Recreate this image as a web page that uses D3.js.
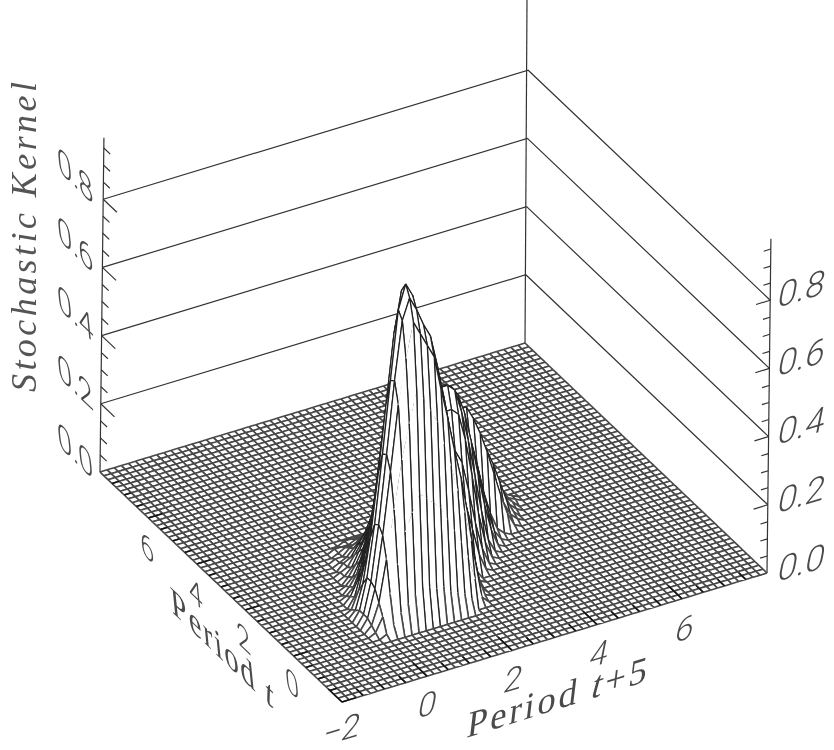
<!DOCTYPE html>
<html><head><meta charset="utf-8">
<style>html,body{margin:0;padding:0;background:#fff}svg{display:block;filter:blur(0.45px)}</style>
<script src="https://cdn.jsdelivr.net/npm/d3@7"></script>
</head><body><svg id="c" width="834" height="750"></svg>
<script>
// Axis ticks
const periodT5Ticks=[-2,0,2,4,6];
const periodTTicks=[0,2,4,6];
const kernelTicks=[0.0,0.2,0.4,0.6,0.8];
const axisLimits={min:-2,max:8,cells:60,zTop:0.98};
// Surface heights x100. Each row is one Period t grid line (first = line 10);
// each column one Period t+5 grid line (first = line 11). Everything else is 0.
const firstRow=10, firstCol=11;
const surfaceRows=[
[0,1,3,6,8,10,12,11,10,10,8,7,6,4],
[1,5,11,19,28,33,38,36,34,32,28,24,20,15,8,2],
[2,8,20,34,48,58,67,64,60,56,49,42,34,27,18,7,1],
[3,11,26,44,63,76,86,82,78,74,64,55,45,36,25,12,2],
[3,12,28,48,69,86,92,88,83,79,70,60,49,39,28,14,3],
[3,12,27,47,68,88,95,91,81,77,68,57,46,35,24,12,4,1],
[2,9,22,40,60,80,92,86,85,76,62,52,42,31,23,14,8,3],
[1,6,15,30,48,64,78,80,78,66,56,47,40,34,29,26,22,14,6,1],
[0,3,10,21,35,50,64,70,68,60,52,46,43,41,39,37,33,24,14,6,1],
[0,2,6,14,25,38,50,58,59,56,51,47,46,47,48,48,46,38,27,15,6,1],
[0,1,3,8,17,27,38,46,51,53,50,48,49,52,54,54,52,45,36,25,14,5,1],
[0,0,2,5,11,19,28,36,44,50,49,48,49,51,53,53,52,49,43,34,24,14,6,1],
[0,0,1,3,7,13,20,27,37,46,46,47,48,49,50,50,50,48,43,37,29,20,11,4,1],
[0,0,0,2,5,9,15,21,31,40,42,44,46,46,46,46,46,45,41,37,31,24,15,8,3,1],
[0,0,0,1,3,7,11,16,25,33,36,38,39,40,40,40,40,40,40,40,40,36,31,25,18,11,5,1],
[0,0,0,1,2,5,8,12,19,27,30,31,33,34,34,34,34,34,34,34,34,34,30,25,19,13,7,3,1],
[0,0,0,0,2,3,6,9,14,20,22,24,25,26,26,27,27,27,27,27,27,27,27,27,23,18,12,6,2],
[0,0,0,0,1,2,4,6,9,13,15,16,17,18,18,18,18,19,19,19,19,19,19,19,19,16,11,7,3,1],
[0,0,0,0,1,1,3,4,5,8,9,10,11,11,12,12,12,12,13,13,13,13,13,13,13,12,10,7,4,2],
[0,0,0,0,0,1,2,2,3,4,5,5,6,6,6,7,7,7,7,7,7,7,7,7,7,7,7,6,4,2,1],
[0,0,0,0,0,1,1,1,2,2,3,3,3,3,3,4,4,4,4,4,4,4,4,4,4,4,4,3,3,2,1],
[0,0,0,0,0,0,0,1,1,1,1,1,1,1,1,1,1,1,1,1,1,1,1,1,1,1,1,1]
];

const N=axisLimits.cells;
// Projection scales (one grid cell along each floor edge, one unit of height)
const front=[342,702];
const uX=d3.scaleLinear().domain([0,N]).range([0,425]);
const uY=d3.scaleLinear().domain([0,N]).range([0,-129]);
const vX=d3.scaleLinear().domain([0,N]).range([0,-242]);
const vY=d3.scaleLinear().domain([0,N]).range([0,-230]);
const zX=d3.scaleLinear().domain([0,1]).range([0,4]);
const zY=d3.scaleLinear().domain([0,1]).range([0,-341]);
const cell=d3.scaleLinear().domain([axisLimits.min,axisLimits.max]).range([0,N]);
function H(u,v){const r=surfaceRows[v-firstRow];if(!r)return 0;const x=r[u-firstCol];return x?x/100:0;}
function P(u,v,z){return [front[0]+uX(u)+vX(v)+zX(z),front[1]+uY(u)+vY(v)+zY(z)];}
function S(u,v){return P(u,v,H(u,v));}
const line=d3.line();
const svg=d3.select('#c');

// Back walls: level lines and vertical axes
const walls=svg.append('g').attr('stroke','#333').attr('stroke-width',1.2).attr('fill','none');
walls.selectAll('path.level').data(kernelTicks.filter(d=>d>0)).join('path').attr('class','level')
 .attr('d',z=>line([P(0,N,z),P(N,N,z),P(N,0,z)]));
walls.append('path').attr('d',line([P(N,N,0),[527,0]]));
walls.append('path').attr('d',line([P(0,N,0),P(0,N,axisLimits.zTop)]));
walls.append('path').attr('d',line([P(N,0,0),P(N,0,axisLimits.zTop)]));
const zMinor=d3.range(0,20).map(i=>i*0.05);
walls.selectAll('path.lt').data(zMinor).join('path').attr('class','lt')
 .attr('d',(z,i)=>{const p=P(0,N,z),L=i%4==0?3.4:1.6;return line([p,[p[0]-vX(L),p[1]-vY(L)]]);});
walls.selectAll('path.rt').data(zMinor).join('path').attr('class','rt')
 .attr('d',(z,i)=>{const p=P(N,0,z),L=i%4==0?2:1;return line([p,[p[0]-uX(L),p[1]-uY(L)]]);});

// Hidden-line surface: quads painted from back to front
const quads=[];
for(let v=N-1;v>=0;v--)for(let u=N-1;u>=0;u--){quads.push({u,v,k:0});quads.push({u,v,k:1});}
// The front wall shows only its Period t+5 lines
function steep(u,v){
  if(v>=14||(H(u,v)===0&&H(u+1,v)===0))return false;
  return Math.max(H(u,v+1)-H(u,v),H(u+1,v+1)-H(u+1,v))>0.07;
}
function raised(q){return H(q.u,q.v)+H(q.u+1,q.v)+H(q.u,q.v+1)+H(q.u+1,q.v+1)>0.2;}
svg.append('g').selectAll('path').data(quads).join('path')
 .attr('d',q=>{
  const a=S(q.u,q.v),b=S(q.u+1,q.v),c=S(q.u+1,q.v+1),d=S(q.u,q.v+1);
  if(q.k===0)return line([a,b,c,d])+'Z';
  let s=line([a,d])+line([b,c]);
  if(!steep(q.u,q.v))s+=line([a,b]);
  if(!steep(q.u,q.v+1))s+=line([d,c]);
  return s;})
 .attr('fill',q=>q.k===0?'#fff':'none')
 .attr('stroke',q=>q.k===0?'none':(raised(q)?'#222':'#484848'))
 .attr('stroke-width',q=>raised(q)?1.25:1.6);

// Floor ticks
const floorTicks=d3.range(0,20).map(i=>-2+i*0.5);
const ticks=svg.append('g').attr('stroke','#111').attr('stroke-width',1.4).attr('fill','none');
ticks.selectAll('path.x').data(floorTicks).join('path').attr('class','x')
 .attr('d',(d,i)=>line([P(cell(d),0,0),P(cell(d),i%4==0?3.4:1.7,0)]));
ticks.selectAll('path.t').data(floorTicks).join('path').attr('class','t')
 .attr('d',(d,i)=>line([P(0,cell(d),0),P(i%4==0?2:1,cell(d),0),]));

// Text
const numFont='Roboto, "Liberation Sans", sans-serif', ttl='"Liberation Serif", serif', grey='#4a4a4a';
const matRight='.96,-.29,-.2,1', matLeft='.72,.69,.1,1';
function put(x,y,m,str,size,anchor){
 return svg.append('text').attr('transform',`translate(${x},${y}) matrix(${m},0,0)`)
  .attr('text-anchor',anchor||'middle').attr('dy','.36em')
  .attr('font-family',numFont).attr('font-weight',300).attr('font-size',size).attr('fill',grey).text(str);
}
const f1=d3.format('.1f');
const fmt=d=>d<0?'\u2212'+Math.abs(d):String(d);
const rightY=d3.scaleLinear().domain([0,0.8]).range([562,288]);
const leftY=d3.scaleLinear().domain([0,0.8]).range([450,175]);
kernelTicks.forEach(z=>{put(802,rightY(z),matRight,f1(z),36);put(75,leftY(z),matLeft,f1(z),37);});
const xLabelX=d3.scaleLinear().domain([-2,6]).range([342,685]);
const xLabelY=d3.scaleLinear().domain([-2,6]).range([729,628]);
periodT5Ticks.forEach(d=>put(xLabelX(d),xLabelY(d),matRight,fmt(d),34));
const tLabelX=d3.scaleLinear().domain([0,6]).range([292,147]);
const tLabelY=d3.scaleLinear().domain([0,6]).range([683,547]);
periodTTicks.forEach(d=>put(tLabelX(d),tLabelY(d),matLeft,fmt(d),34));

const t1=svg.append('text').attr('transform',`translate(172,612) matrix(${matLeft},0,0)`)
 .attr('font-family',ttl).attr('font-size',40).attr('fill',grey).attr('textLength',142).attr('lengthAdjust','spacing');
t1.append('tspan').text('Period ');t1.append('tspan').attr('font-style','italic').text('t');
const t2=svg.append('text').attr('transform',`translate(466,738) matrix(.955,-.3,-.12,1,0,0)`)
 .attr('font-family',ttl).attr('font-size',38).attr('fill',grey).attr('textLength',188).attr('lengthAdjust','spacing');
t2.append('tspan').text('Period ');t2.append('tspan').attr('font-style','italic').text('t');t2.append('tspan').text('+5');
svg.append('text').attr('transform','translate(36,392) rotate(-90)')
 .attr('font-family',ttl).attr('font-style','italic').attr('font-size',36).attr('fill','#555')
 .attr('textLength',310).attr('lengthAdjust','spacing').text('Stochastic Kernel');
</script></body></html>
